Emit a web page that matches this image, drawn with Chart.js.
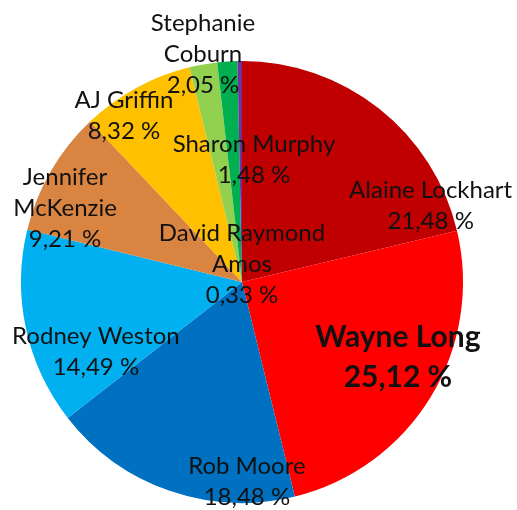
<!DOCTYPE html>
<html>
<head>
<meta charset="utf-8">
<script src="https://cdn.jsdelivr.net/npm/chart.js@4"></script>
<style>
  html, body { margin: 0; padding: 0; background: #fff; }
  #wrap { width: 517px; height: 510px; }
</style>
</head>
<body>
<div id="wrap"><canvas id="pieChart" width="517" height="510"></canvas></div>
<script>
// candidates, clockwise from 12 o'clock (multi-line names as arrays)
const candidates = [
    ['Alaine Lockhart'],
    ['Wayne Long'],
    ['Rob Moore'],
    ['Rodney Weston'],
    ['Jennifer', 'McKenzie'],
    ['AJ Griffin'],
    ['Stephanie', 'Coburn'],
    ['Sharon Murphy'],
    ['David Raymond', 'Amos']
];
const shares = [21.48, 25.12, 18.48, 14.49, 9.21, 8.32, 2.05, 1.48, 0.33];
const sliceColours = ['#C00000', '#FF0000', '#0070C0', '#00B0F0', '#DA8442',
                      '#FFC000', '#92D050', '#00B050', '#7030A0'];

// where each label sits: [angle in degrees clockwise from top, distance as fraction of radius]
const labelSpots = [
    [68.1, 0.92], [115.7, 0.783], [178.6, 0.905], [244.4, 0.733], [292.7, 0.868],
    [324.6, 0.922], [350.3, 1.047], [5.6, 0.555], [0, 0.081]
];
const boldIndex = 1; // the winner is drawn bold and larger

function pct(v) {
    return v.toFixed(2).replace('.', ',') + ' %';
}

const labelPlugin = {
    id: 'sliceLabels',
    afterDatasetsDraw(chart) {
        const ctx = chart.ctx;
        const meta = chart.getDatasetMeta(0);
        ctx.save();
        ctx.textAlign = 'center';
        ctx.textBaseline = 'middle';
        ctx.fillStyle = '#111';
        meta.data.forEach((arc, i) => {
            const r = arc.outerRadius;
            const a = labelSpots[i][0] * Math.PI / 180;
            const cx = arc.x + Math.sin(a) * r * labelSpots[i][1];
            const cy = arc.y - Math.cos(a) * r * labelSpots[i][1];
            const lines = candidates[i].concat([pct(shares[i])]);
            const bold = i === boldIndex;
            const lh = bold ? 40 : 31;
            ctx.font = bold ? 'bold 30px Lato' : '24px Lato';
            const top = cy - (lines.length - 1) * lh / 2;
            lines.forEach((t, k) => ctx.fillText(t, cx, top + k * lh));
        });
        ctx.restore();
    }
};

new Chart(document.getElementById('pieChart'), {
    type: 'pie',
    data: {
        labels: candidates,
        datasets: [{
            data: shares,
            backgroundColor: sliceColours,
            borderWidth: 0,
            hoverOffset: 0
        }]
    },
    options: {
        responsive: false,
        animation: false,
        events: [],
        layout: { padding: { top: 61, bottom: 7, left: 21, right: 54 } },
        plugins: {
            legend: { display: false },
            tooltip: { enabled: false }
        }
    },
    plugins: [labelPlugin]
});
</script>
</body>
</html>
